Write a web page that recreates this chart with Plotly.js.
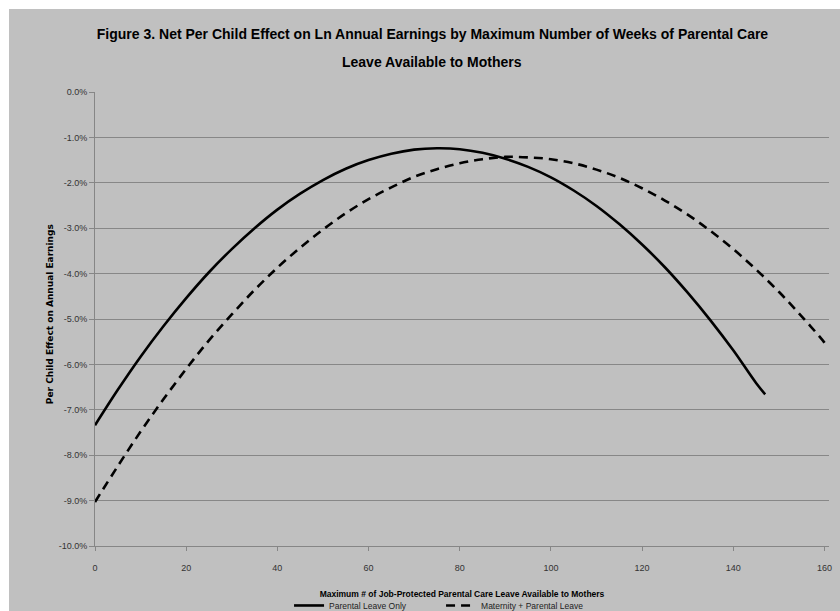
<!DOCTYPE html>
<html>
<head>
<meta charset="utf-8">
<script src="https://cdn.plot.ly/plotly-3.0.1.min.js"></script>
<style>
html,body{margin:0;padding:0;background:#ffffff;}
#chart{position:absolute;left:9px;top:9px;width:831px;height:602px;}
</style>
</head>
<body>
<div id="chart"></div>
<script>
// Weeks of leave (x) and per-child effect in percent (y)
const weeksParental = [0,5,10,15,20,25,30,35,40,45,50,55,60,65,70,75,80,85,90,95,100,105,110,115,120,125,130,135,140,145,147];
const effectParental = [-7.34,-6.56,-5.83,-5.16,-4.54,-3.97,-3.46,-3.00,-2.59,-2.24,-1.94,-1.69,-1.50,-1.36,-1.27,-1.24,-1.26,-1.34,-1.47,-1.65,-1.88,-2.17,-2.51,-2.91,-3.36,-3.86,-4.42,-5.03,-5.69,-6.41,-6.66];

const weeksMaternity = [0,5,10,15,20,25,30,35,40,45,50,55,60,65,70,75,80,85,90,95,100,105,110,115,120,125,130,135,140,145,150,155,160,160.5];
const effectMaternity = [-9.03,-8.24,-7.48,-6.77,-6.10,-5.47,-4.90,-4.36,-3.87,-3.43,-3.03,-2.67,-2.36,-2.10,-1.87,-1.70,-1.57,-1.48,-1.43,-1.44,-1.48,-1.57,-1.71,-1.89,-2.12,-2.39,-2.70,-3.06,-3.46,-3.91,-4.40,-4.94,-5.52,-5.60];

const seriesNames = ["Parental Leave Only", "Maternity + Parental Leave"];
const xTicks = [0,20,40,60,80,100,120,140,160];
const yTicks = [0,-1,-2,-3,-4,-5,-6,-7,-8,-9,-10];
const titleLines = ["Figure 3. Net Per Child Effect on Ln Annual Earnings by Maximum Number of Weeks of Parental Care",
                    "Leave Available to Mothers"];
const yTitle = "Per Child Effect on Annual Earnings";
const xTitle = "Maximum # of Job-Protected Parental Care Leave Available to Mothers";

const FONT = "'Liberation Sans', Arial, sans-serif";

const traces = [
  {x: weeksParental, y: effectParental, name: seriesNames[0], type: 'scatter', mode: 'lines',
   line: {color: '#000000', width: 2.6, shape: 'spline'}},
  {x: weeksMaternity, y: effectMaternity, name: seriesNames[1], type: 'scatter', mode: 'lines',
   line: {color: '#000000', width: 2.6, dash: '9px,6px', shape: 'spline'}}
];

const layout = {
  width: 831, height: 602,
  paper_bgcolor: '#c0c0c0', plot_bgcolor: '#c0c0c0',
  margin: {l: 86, r: 11, t: 83, b: 65, pad: 0, autoexpand: false},
  font: {family: FONT, color: '#222222'},
  title: {
    text: titleLines[0],
    font: {family: FONT, size: 14, color: '#000000', weight: 'bold'},
    xref: 'container', x: 0.5096, xanchor: 'center',
    yref: 'container', y: 0.9585, yanchor: 'middle'
  },
  annotations: [
    {
      text: titleLines[1], showarrow: false,
      font: {family: FONT, size: 14, color: '#000000', weight: 'bold'},
      xref: 'paper', x: 0.4596, xanchor: 'center',
      yref: 'paper', y: 1.0668, yanchor: 'middle'
    },
    {
      text: yTitle, showarrow: false, textangle: -90,
      font: {family: 'DejaVu Sans, sans-serif', size: 9, color: '#000000', weight: 'bold'},
      xref: 'paper', x: -0.0604, xanchor: 'center',
      yref: 'paper', y: 0.51, yanchor: 'middle'
    }
  ],
  xaxis: {
    range: [0, 161], tickvals: xTicks, ticktext: xTicks.map(String),
    showgrid: false, zeroline: false,
    showline: true, linecolor: '#868686', linewidth: 1,
    ticks: 'outside', ticklen: 4, tickcolor: '#868686',
    ticklabelstandoff: 9,
    tickfont: {family: FONT, size: 9, color: '#333333'},
    title: {text: xTitle,
            font: {family: FONT, size: 8.5, color: '#000000', weight: 'bold'}, standoff: 19}
  },
  yaxis: {
    range: [-10, 0], tickvals: yTicks, ticktext: yTicks.map(v => v.toFixed(1) + '%'),
    showgrid: true, gridcolor: '#878787', gridwidth: 1, zeroline: false,
    showline: true, linecolor: '#868686', linewidth: 1,
    ticks: 'outside', ticklen: 5, tickcolor: '#868686',
    tickfont: {family: FONT, size: 9, color: '#333333'}
  },
  showlegend: true,
  legend: {
    orientation: 'h', xref: 'container', x: 0.337, xanchor: 'left',
    yref: 'paper', y: -0.131, yanchor: 'middle',
    bgcolor: 'rgba(0,0,0,0)', font: {family: FONT, size: 8.5, color: '#222222'},
    itemwidth: 30, tracegroupgap: 0,
    entrywidth: 107, entrywidthmode: 'pixels'
  }
};

Plotly.newPlot('chart', traces, layout, {displayModeBar: false, responsive: false});
</script>
</body>
</html>
